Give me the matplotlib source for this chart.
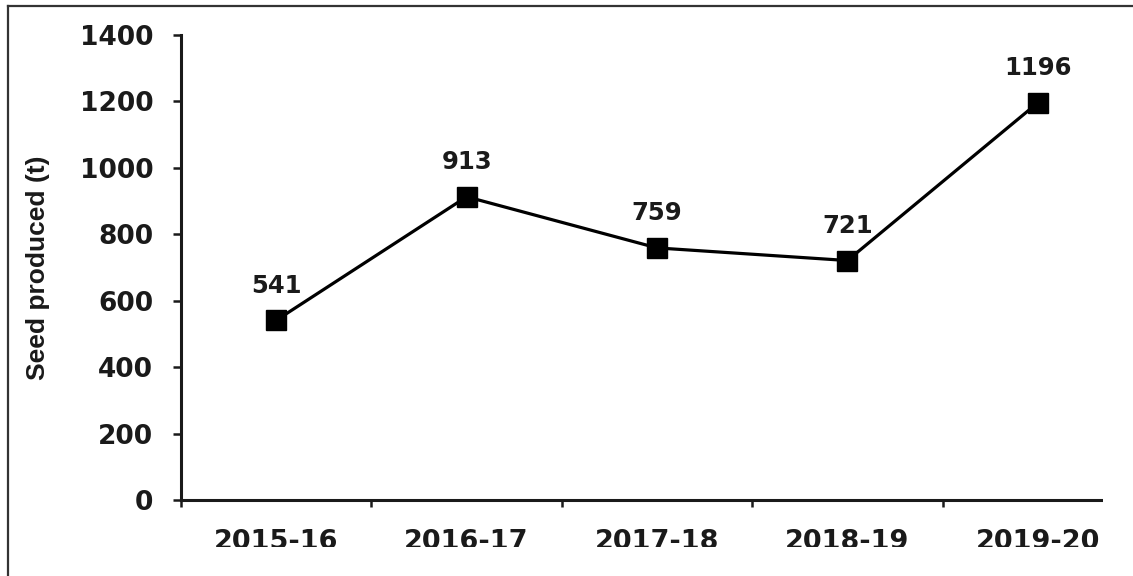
import matplotlib.pyplot as plt
from matplotlib.patches import Rectangle
from matplotlib.lines import Line2D
import numpy as np

years = ['2015-16', '2016-17', '2017-18', '2018-19', '2019-20']
seed = [541, 913, 759, 721, 1196]

plt.rcParams['font.family'] = ['DejaVu Sans']
plt.rcParams['font.weight'] = 'bold'

W, H = 1133, 576
fig = plt.figure(figsize=(W / 100, H / 100), dpi=100)
ax = fig.add_axes([181 / W, (H - 500) / H, (W - 181) / W, 465 / H])

x = np.arange(len(years))
ax.plot(x, seed, color='black', linewidth=2.3, marker='s', markersize=15,
        markerfacecolor='black', markeredgecolor='black', zorder=3)
for xi, v in zip(x, seed):
    ax.annotate(str(v), (xi, v), xytext=(0, 25), textcoords='offset points',
                ha='center', va='center', fontsize=17.5, fontweight='bold', color='#1a1a1a')

ax.set_xlim(-0.5, len(years) - 0.5)
ax.set_ylim(0, 1400)
ax.set_yticks(np.arange(0, 1401, 200))
ax.tick_params(axis='y', direction='out', length=6, width=1.8, pad=14,
               labelsize=19, colors='#1a1a1a')

# category boundaries get the tick marks, centres get the labels
ax.set_xticks(np.arange(-0.5, len(years) - 0.4, 1))
ax.set_xticklabels([])
ax.set_xticks(x, minor=True)
ax.set_xticklabels(years, minor=True)
ax.tick_params(axis='x', which='major', direction='out', length=5, width=1.8, colors='#1a1a1a')
ax.tick_params(axis='x', which='minor', length=0, pad=21, labelsize=19.5, colors='#1a1a1a')

for s in ['top', 'right']:
    ax.spines[s].set_visible(False)
for s in ['left', 'bottom']:
    ax.spines[s].set_linewidth(2.2)
    ax.spines[s].set_color('#1a1a1a')

fig.text(38 / W, (H - 268) / H, 'Seed produced (t)', rotation=90, ha='center', va='center',
         fontsize=19, fontweight='bold', family='Liberation Sans', color='#1a1a1a')

# white mask over the clipped right and bottom edges
fig.patches.append(Rectangle((1103 / W, 0), (W - 1103) / W, (H - 8) / H,
                             transform=fig.transFigure, facecolor='white', edgecolor='none', zorder=10))
fig.patches.append(Rectangle((10 / W, 0), 1, (H - 547) / H,
                             transform=fig.transFigure, facecolor='white', edgecolor='none', zorder=10))

# frame lines on top and left
fig.lines.append(Line2D([8 / W, 1], [(H - 6) / H, (H - 6) / H], transform=fig.transFigure,
                        color='#333333', linewidth=1.6, zorder=11))
fig.lines.append(Line2D([8 / W, 8 / W], [0, (H - 6) / H], transform=fig.transFigure,
                        color='#333333', linewidth=1.6, zorder=11))

fig.savefig('out.png', dpi=100)
